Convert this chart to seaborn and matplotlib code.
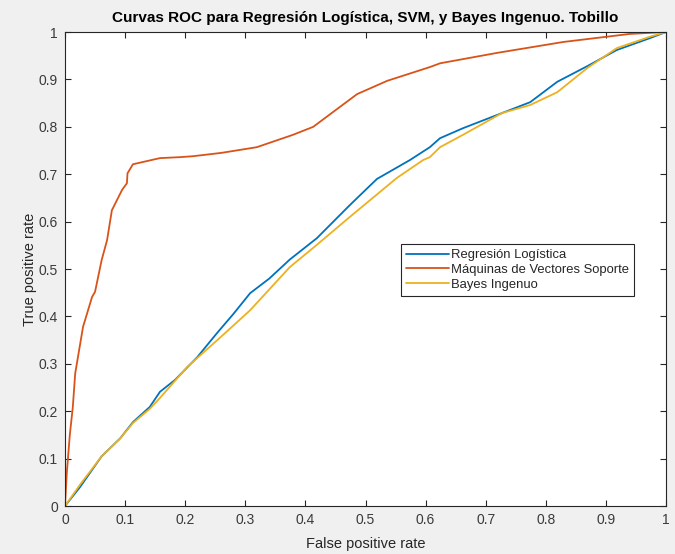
import numpy as np
import pandas as pd
import matplotlib
matplotlib.use("Agg")
import matplotlib.pyplot as plt
import seaborn as sns

# ---- data ----
lr_fpr = [0, 0.025, 0.061, 0.092, 0.113, 0.141, 0.158, 0.183, 0.22, 0.253, 0.28, 0.308, 0.34,
          0.374, 0.419, 0.474, 0.519, 0.574, 0.607, 0.624, 0.662, 0.727, 0.774, 0.819, 0.869,
          0.918, 0.973, 1.0]
lr_tpr = [0, 0.04, 0.105, 0.143, 0.177, 0.209, 0.241, 0.266, 0.314, 0.365, 0.405, 0.449, 0.48,
          0.52, 0.565, 0.635, 0.69, 0.730, 0.757, 0.776, 0.797, 0.829, 0.852, 0.895, 0.928,
          0.962, 0.987, 1.0]

svm_fpr = [0, 0.003, 0.008, 0.013, 0.017, 0.03, 0.045, 0.05, 0.061, 0.07, 0.078, 0.095, 0.103,
           0.104, 0.113, 0.158, 0.191, 0.213, 0.26, 0.319, 0.379, 0.413, 0.45, 0.486, 0.536,
           0.607, 0.624, 0.719, 0.829, 0.94, 1.0]
svm_tpr = [0, 0.07, 0.15, 0.209, 0.28, 0.378, 0.441, 0.452, 0.519, 0.561, 0.624, 0.667, 0.681,
           0.702, 0.721, 0.734, 0.736, 0.738, 0.745, 0.757, 0.783, 0.800, 0.835, 0.869, 0.897,
           0.926, 0.934, 0.956, 0.979, 0.996, 1.0]

nb_fpr = [0, 0.025, 0.061, 0.092, 0.113, 0.141, 0.158, 0.203, 0.263, 0.308, 0.374, 0.419, 0.474,
          0.552, 0.596, 0.607, 0.624, 0.662, 0.727, 0.774, 0.819, 0.869, 0.918, 0.973, 1.0]
nb_tpr = [0, 0.045, 0.105, 0.143, 0.175, 0.205, 0.228, 0.293, 0.361, 0.413, 0.504, 0.551, 0.610,
          0.692, 0.730, 0.736, 0.757, 0.783, 0.829, 0.846, 0.873, 0.924, 0.966, 0.99, 1.0]

series_names = ["Regresión Logística", "Máquinas de Vectores Soporte", "Bayes Ingenuo"]
colors = ["#0072bd", "#d95319", "#edb120"]
ticks = [0, 0.1, 0.2, 0.3, 0.4, 0.5, 0.6, 0.7, 0.8, 0.9, 1]
tick_labels = ["0", "0.1", "0.2", "0.3", "0.4", "0.5", "0.6", "0.7", "0.8", "0.9", "1"]

frames = []
for name, fx, fy in zip(series_names, [lr_fpr, svm_fpr, nb_fpr], [lr_tpr, svm_tpr, nb_tpr]):
    d = pd.DataFrame({"fpr": fx, "tpr": fy})
    d["model"] = name
    frames.append(d)
df = pd.concat(frames, ignore_index=True)

sns.set_style("white")
plt.rcParams["font.family"] = ["Liberation Sans", "DejaVu Sans"]

fig = plt.figure(figsize=(6.75, 5.54), dpi=100, facecolor="#f0f0f0")
ax = fig.add_axes([0.0963, 0.0866, 0.8904, 0.8556])
ax.set_facecolor("white")

sns.lineplot(data=df, x="fpr", y="tpr", hue="model", hue_order=series_names,
             palette=colors, sort=False, estimator=None, units="model",
             linewidth=1.3, ax=ax, legend=True)

ax.set_xlim(0, 1)
ax.set_ylim(0, 1)
ax.set_xticks(ticks)
ax.set_xticklabels(tick_labels)
ax.set_yticks(ticks)
ax.set_yticklabels(tick_labels)
ax.tick_params(direction="in", length=4, width=0.8, color="#262626", labelcolor="#3a3a3a",
               labelsize=10, top=True, right=True, bottom=True, left=True, pad=5)
for s in ax.spines.values():
    s.set_visible(True)
    s.set_color("#262626")
    s.set_linewidth(0.8)

ax.set_xlabel("False positive rate", fontsize=10.5, color="#262626", labelpad=7)
ax.set_ylabel("True positive rate", fontsize=10.5, color="#262626", labelpad=1)
ax.set_title("Curvas ROC para Regresión Logística, SVM, y Bayes Ingenuo. Tobillo",
             fontsize=11, fontweight="bold", color="black", pad=7)

leg = ax.legend(loc="upper left", bbox_to_anchor=(0.559, 0.553), fontsize=9.4,
                frameon=True, fancybox=False, edgecolor="#262626", framealpha=1,
                handlelength=3.3, handletextpad=0.15, borderpad=0.4, labelspacing=0.2,
                borderaxespad=0)
leg.get_frame().set_linewidth(0.8)
for t in leg.get_texts():
    t.set_color("#262626")

fig.savefig("out.png", dpi=100, facecolor=fig.get_facecolor())
